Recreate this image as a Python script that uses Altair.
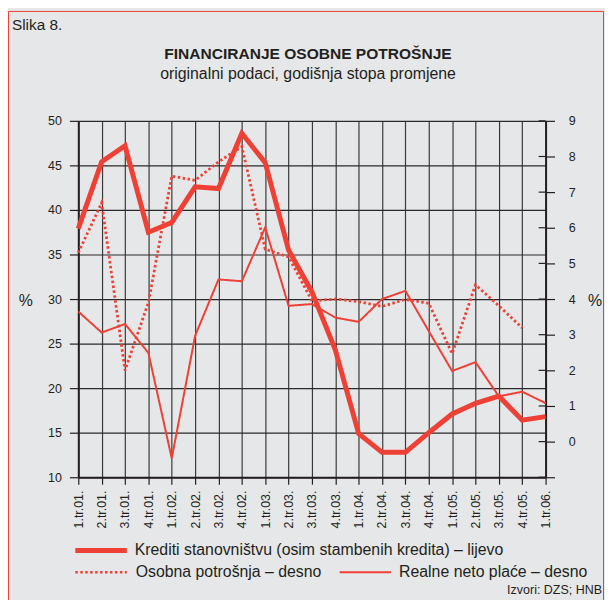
import altair as alt
import pandas as pd

quarters = ["1.tr.01.", "2.tr.01.", "3.tr.01.", "4.tr.01.",
            "1.tr.02.", "2.tr.02.", "3.tr.02.", "4.tr.02.",
            "1.tr.03.", "2.tr.03.", "3.tr.03.", "4.tr.03.",
            "1.tr.04.", "2.tr.04.", "3.tr.04.", "4.tr.04.",
            "1.tr.05.", "2.tr.05.", "3.tr.05.", "4.tr.05.",
            "1.tr.06."]

krediti = [37.9, 45.4, 47.2, 37.5, 38.6, 42.6, 42.4, 48.6, 45.3, 35.5, 30.8,
           24.3, 14.9, 12.8, 12.8, 15.0, 17.1, 18.3, 19.1, 16.4, 16.8]

osobna = [5.3, 6.7, 2.0, 3.9, 7.45, 7.33, 7.85, 8.28, 5.4, 5.18, 3.95,
          4.0, 3.93, 3.79, 3.99, 3.88, 2.47, 4.4, 3.81, 3.19, None]

place = [3.65, 3.06, 3.3, 2.49, -0.47, 2.97, 4.55, 4.5, 6.01, 3.81, 3.86,
         3.48, 3.36, 4.0, 4.23, 3.1, 1.98, 2.23, 1.27, 1.40, 1.08]

left_ticks = [10, 15, 20, 25, 30, 35, 40, 45, 50]
right_ticks = [-1, 0, 1, 2, 3, 4, 5, 6, 7, 8, 9]

RED = "#ee4035"
DARK = "#231f20"
FONT = "Liberation Sans"

df_left = pd.DataFrame({"q": quarters, "v": krediti})
df_right = pd.DataFrame({
    "q": quarters * 2,
    "v": osobna + place,
    "s": ["Osobna potrošnja"] * len(quarters) + ["Realne neto plaće"] * len(quarters),
})
df_rticks = pd.DataFrame({"v": right_ticks})

x_axis = alt.Axis(labelAngle=270, grid=True, gridColor="#3a3a3a", gridWidth=1.2,
                  tickSize=7, tickColor=DARK, tickWidth=1.2, labelPadding=6,
                  domainWidth=2, domainColor=DARK, title=None,
                  labelFontSize=12.5, labelFont=FONT, labelColor=DARK)
x_enc = alt.X("q:N", sort=quarters,
              scale=alt.Scale(type="point", padding=0, domain=quarters),
              axis=x_axis)

left = alt.Chart(df_left).mark_line(color=RED, strokeWidth=5, strokeJoin="miter").encode(
    x=x_enc,
    y=alt.Y("v:Q", scale=alt.Scale(domain=[10, 50], nice=False, zero=False),
            axis=alt.Axis(values=left_ticks, grid=True, gridColor="#2a2a2a",
                          gridWidth=1.2, tickSize=9, tickColor=DARK, tickWidth=1.2,
                          domainWidth=2, domainColor=DARK, labelPadding=8,
                          labelFontSize=12.6, labelFont=FONT, labelColor=DARK,
                          title=None)),
)

right_scale = alt.Scale(domain=[-1, 9], nice=False, zero=False)
right_axis = alt.Axis(orient="right", values=right_ticks, grid=False,
                      tickSize=9, tickColor=DARK, tickWidth=1.2,
                      domainWidth=2, domainColor=DARK, labelPadding=14,
                      labelFontSize=12.6, labelFont=FONT, labelColor=DARK,
                      labelExpr="datum.value == -1 ? '' : datum.label",
                      title=None)

right_lines = alt.Chart(df_right).mark_line(color=RED).encode(
    x=x_enc,
    y=alt.Y("v:Q", scale=right_scale, axis=right_axis),
    strokeDash=alt.StrokeDash("s:N", scale=alt.Scale(
        domain=["Osobna potrošnja", "Realne neto plaće"], range=[[2.5, 2.5], [1, 0]]),
        legend=None),
    strokeWidth=alt.StrokeWidth("s:N", scale=alt.Scale(
        domain=["Osobna potrošnja", "Realne neto plaće"], range=[2.8, 2]),
        legend=None),
    detail="s:N",
)

# inner half of the right-axis ticks (they cross the axis line)
right_inner_ticks = alt.Chart(df_rticks).mark_rule(color=DARK, strokeWidth=1.2).encode(
    y=alt.Y("v:Q", scale=right_scale, axis=right_axis),
    x=alt.value(465), x2=alt.value(472),
)

right = alt.layer(right_inner_ticks, right_lines)


def txt(s, x, y, size=15.5, align="left", bold=False, color=DARK):
    return alt.Chart(pd.DataFrame({"t": [s]})).mark_text(
        align=align, baseline="middle", fontSize=size, font=FONT,
        fontWeight="bold" if bold else "normal", color=color,
    ).encode(text="t:N", x=alt.value(x), y=alt.value(y))


def rule(x1, x2, y, width, dash=None):
    kw = dict(color=RED, strokeWidth=width)
    if dash:
        kw["strokeDash"] = dash
    return alt.Chart(pd.DataFrame({"a": [0]})).mark_rule(**kw).encode(
        x=alt.value(x1), x2=alt.value(x2), y=alt.value(y))


frame = alt.Chart(pd.DataFrame({"a": [0]})).mark_rect(
    fill=None, stroke=RED, strokeWidth=1).encode(
    x=alt.value(-70.5), x2=alt.value(530.5), y=alt.value(-110.5), y2=alt.value(500))

decor = [
    frame,
    txt("Slika 8.", -67, -97, size=15.5),
    txt("FINANCIRANJE OSOBNE POTROŠNJE", 232, -67, size=15.7, align="center", bold=True),
    txt("originalni podaci, godišnja stopa promjene", 232, -47, size=16, align="center"),
    txt("%", -53, 182, size=16, align="center"),
    txt("%", 522, 182, size=16, align="center"),
    rule(-3, 49, 434, 5),
    txt("Krediti stanovništvu (osim stambenih kredita) – lijevo", 57, 434, size=16),
    rule(-3, 49, 456, 2.5, [2.5, 2.5]),
    txt("Osobna potrošnja – desno", 58, 456, size=16),
    rule(264, 316, 456, 2),
    txt("Realne neto plaće – desno", 324, 456, size=16),
    txt("Izvori: DZS; HNB", 529, 474, size=12.6, align="right"),
]

chart = alt.layer(left, right, *decor).resolve_scale(
    y="independent", strokeDash="independent", strokeWidth="independent"
).properties(
    width=472, height=360,
    autosize=alt.AutoSizeParams(type="none"),
    padding={"left": 71, "top": 111, "right": 60, "bottom": 121},
    background="#e6e7e8",
).configure_view(stroke=None)

chart.save("out.html", embed_options={"renderer": "svg", "actions": False})
